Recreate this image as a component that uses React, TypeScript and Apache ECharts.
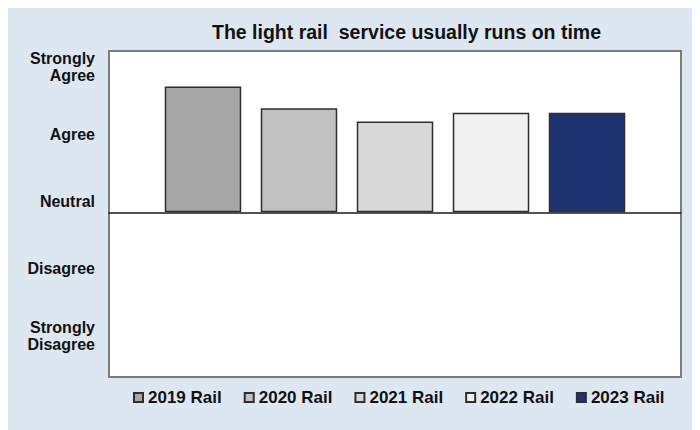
import React, { useEffect, useRef } from "react";
import * as echarts from "echarts";

const categories = [""];
const seriesNames = ["2019 Rail", "2020 Rail", "2021 Rail", "2022 Rail", "2023 Rail"];
const seriesValues = [1.87, 1.55, 1.35, 1.48, 1.48];
const seriesColors = ["#a7a7a7", "#c0c0c0", "#d8d8d8", "#f1f1f1", "#1f3572"];
const yTickValues = [-2, -1, 0, 1, 2];
const yTickLabels = ["Strongly\nDisagree", "Disagree", "Neutral", "Agree", "Strongly\nAgree"];
const titleText = "The light rail  service usually runs on time";

export default function App() {
  const ref = useRef<HTMLDivElement>(null);
  useEffect(() => {
    if (!ref.current) return;
    const chart = echarts.init(ref.current, null, { renderer: "svg" });
    const font = "'Liberation Sans', Arial, sans-serif";
    chart.setOption({
      animation: false,
      backgroundColor: "#dde7f2",
      textStyle: { fontFamily: font },
      title: {
        text: titleText,
        left: 204,
        top: 14,
        padding: 0,
        textStyle: { fontSize: 19.5, fontWeight: "bold", color: "#111", fontFamily: font },
      },
      legend: {
        data: seriesNames,
        left: 125,
        top: 381,
        padding: 0,
        itemWidth: 9,
        itemHeight: 9,
        itemGap: 22,
        icon: "rect",
        textStyle: { fontSize: 17, fontWeight: "bold", color: "#111", fontFamily: font },
      },
      grid: {
        left: 101,
        right: 19,
        top: 43,
        bottom: 53,
        show: true,
        backgroundColor: "#ffffff",
        borderColor: "#7c7c7c",
        borderWidth: 2,
        containLabel: false,
      },
      xAxis: {
        type: "category",
        data: categories,
        axisLine: { show: true, onZero: true, onZeroAxisIndex: 0, lineStyle: { color: "#1a1a1a", width: 1.5 } },
        axisTick: { show: false },
        axisLabel: { show: false },
        splitLine: { show: false },
      },
      yAxis: [
        {
          type: "value",
          min: -2.45,
          max: 2.4,
          axisLine: { show: false },
          axisTick: { show: false },
          splitLine: { show: false },
          axisLabel: { show: false },
        },
        {
          type: "value",
          position: "left",
          min: -2.615,
          max: 2.235,
          axisLine: { show: false },
          axisTick: { show: false },
          splitLine: { show: false },
          axisLabel: {
            customValues: yTickValues,
            margin: 14,
            fontSize: 16,
            fontWeight: "bold",
            color: "#111",
            lineHeight: 17,
            align: "right",
            fontFamily: font,
            formatter: (v: number) => {
              const i = yTickValues.indexOf(Math.round(v));
              return i >= 0 ? yTickLabels[i] : "";
            },
          },
        },
      ],
      series: seriesNames.map((name, i) => ({
        name,
        type: "bar",
        yAxisIndex: 0,
        data: [seriesValues[i]],
        barWidth: 76.5,
        barGap: "25.5%",
        itemStyle: { color: seriesColors[i], borderColor: "#2e2e2e", borderWidth: 1.5 },
      })),
    });
    return () => chart.dispose();
  }, []);
  return <div ref={ref} style={{ width: 692, height: 422 }} />;
}
